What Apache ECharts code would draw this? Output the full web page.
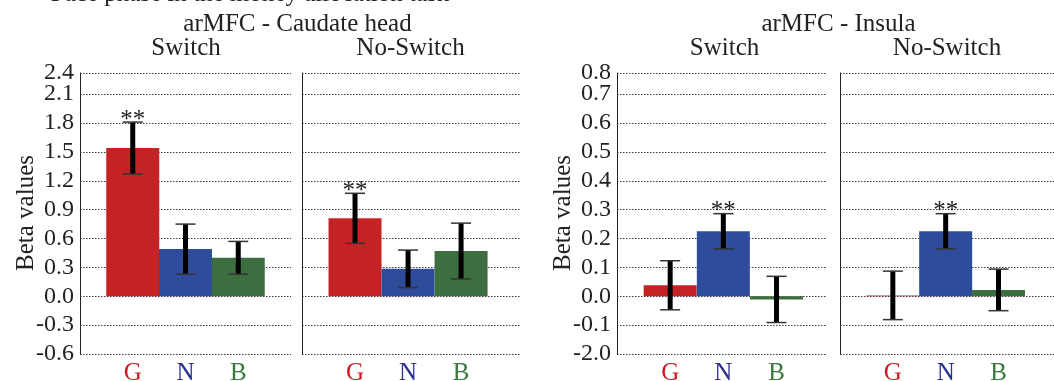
<!DOCTYPE html>
<html>
<head>
<meta charset="utf-8">
<script src="https://cdn.jsdelivr.net/npm/echarts@6/dist/echarts.min.js"></script>
<style>
  html, body { margin: 0; padding: 0; background: #fff; }
  #main { width: 1054px; height: 381px; }
</style>
</head>
<body>
<div id="main"></div>
<script>
// conditions on the x axis
var conditions = ['G', 'N', 'B'];
var condPos = [1, 2, 3];
var barColors = ['#c42224', '#2f4b9c', '#3c6e40'];
var labelColors = ['#cc1b22', '#2d2f8f', '#3b7a3d'];

// arMFC - Caudate head
var caudSwitch = [1.54, 0.49, 0.40];
var caudSwitchErr = [0.27, 0.26, 0.17];
var caudNoSwitch = [0.81, 0.285, 0.47];
var caudNoSwitchErr = [0.26, 0.195, 0.29];
var caudStars = [true, false, false];

// arMFC - Insula
var insSwitch = [0.038, 0.225, -0.011];
var insSwitchErr = [0.085, 0.061, 0.08];
var insNoSwitch = [0.003, 0.225, 0.022];
var insNoSwitchErr = [0.084, 0.061, 0.072];
var insStars = [false, true, false];

// tick labels as printed (the insula axis really says -2.0 at the bottom)
// top gridline in the figure sits less than a full step above the previous one
var caudTickLabels = ['-0.6', '-0.3', '0.0', '0.3', '0.6', '0.9', '1.2', '1.5', '1.8', '2.1', '2.4'];
var caudTickValues = [-0.6, -0.3, 0, 0.3, 0.6, 0.9, 1.2, 1.5, 1.8, 2.1, 2.32];
var insTickLabels = ['-2.0', '-0.1', '0.0', '0.1', '0.2', '0.3', '0.4', '0.5', '0.6', '0.7', '0.8'];
var insTickValues = [-0.2, -0.1, 0, 0.1, 0.2, 0.3, 0.4, 0.5, 0.6, 0.7, 0.773];

var FONT = 'Liberation Serif';
var chart = echarts.init(document.getElementById('main'));

function lblFmt(vals, labels) {
  return function (v) {
    var i = vals.indexOf(v);
    return i < 0 ? '' : labels[i];
  };
}

function yAx(gi, vals, labels, showLabel) {
  var top = vals[vals.length - 1];
  return {
    type: 'value', gridIndex: gi, position: 'left',
    min: vals[0], max: top + 0.0002,
    axisLine: { show: true, lineStyle: { color: '#222', width: 1 } },
    axisTick: { show: false, customValues: vals },
    axisLabel: {
      show: showLabel, customValues: vals.slice(0, -1), margin: 6,
      fontFamily: FONT, fontSize: 24, color: '#222',
      formatter: lblFmt(vals, labels)
    },
    splitLine: { show: true, lineStyle: { color: '#3a3a3a', width: 1.2, type: [1.5, 1.5] } }
  };
}

// separate axis just for the squeezed top label so it isn't dropped as overlapping
function yTopAx(gi, vals, labels) {
  var top = vals[vals.length - 1];
  return {
    type: 'value', gridIndex: gi, position: 'left', offset: 0,
    min: vals[0], max: top + 0.0002,
    axisLine: { show: false }, axisTick: { show: false }, splitLine: { show: false },
    axisLabel: {
      customValues: [top], margin: 6,
      fontFamily: FONT, fontSize: 24, color: '#222',
      formatter: lblFmt(vals, labels)
    }
  };
}

function xAx(gi, max) {
  return {
    type: 'value', gridIndex: gi, min: 0, max: max,
    axisLine: { show: false }, axisTick: { show: false }, splitLine: { show: false },
    axisLabel: {
      customValues: condPos, margin: 7,
      formatter: function (v) {
        var i = condPos.indexOf(v);
        return i < 0 ? '' : '{c' + i + '|' + conditions[i] + '}';
      },
      rich: {
        c0: { color: labelColors[0], fontFamily: FONT, fontSize: 25 },
        c1: { color: labelColors[1], fontFamily: FONT, fontSize: 25 },
        c2: { color: labelColors[2], fontFamily: FONT, fontSize: 25 }
      }
    }
  };
}

function barSeries(gi, vals) {
  return {
    type: 'bar', xAxisIndex: gi, yAxisIndex: gi, barWidth: 53, silent: true,
    data: vals.map(function (v, i) {
      return { value: [condPos[i], v], itemStyle: { color: barColors[i] } };
    })
  };
}

function renderErr(params, api) {
  var x = api.value(0), m = api.value(1), e = api.value(2);
  var hi = api.coord([x, m + e]);
  var lo = api.coord([x, m - e]);
  var kids = [
    { type: 'rect', shape: { x: hi[0] - 2.5, y: hi[1], width: 5, height: lo[1] - hi[1] }, style: { fill: '#000' } },
    { type: 'line', shape: { x1: hi[0] - 10, y1: hi[1], x2: hi[0] + 10, y2: hi[1] }, style: { stroke: '#333', lineWidth: 1.5 } },
    { type: 'line', shape: { x1: lo[0] - 10, y1: lo[1], x2: lo[0] + 10, y2: lo[1] }, style: { stroke: '#333', lineWidth: 1.5 } }
  ];
  if (api.value(3)) {
    kids.push({
      type: 'text', x: hi[0], y: hi[1] - 2,
      style: { text: '**', fontFamily: FONT, fontSize: 25, fill: '#222', align: 'center', verticalAlign: 'middle' }
    });
  }
  return { type: 'group', children: kids };
}

function errSeries(gi, vals, errs, stars) {
  return {
    type: 'custom', xAxisIndex: gi, yAxisIndex: gi, silent: true, z: 5,
    renderItem: renderErr,
    data: vals.map(function (v, i) { return [condPos[i], v, errs[i], stars[i] ? 1 : 0]; })
  };
}

function txt(s, x, y, size, rot) {
  return {
    type: 'text', x: x, y: y, rotation: rot || 0,
    style: { text: s, fontFamily: FONT, fontSize: size, fill: '#222', align: 'center', verticalAlign: 'middle' }
  };
}

var option = {
  animation: false,
  backgroundColor: '#fff',
  grid: [
    { left: 80, top: 73, width: 211, height: 281, outerBoundsMode: 'none' },
    { left: 302, top: 73, width: 219, height: 281, outerBoundsMode: 'none' },
    { left: 617, top: 73, width: 210, height: 281, outerBoundsMode: 'none' },
    { left: 840, top: 73, width: 214, height: 281, outerBoundsMode: 'none' }
  ],
  xAxis: [xAx(0, 4), xAx(1, 4.13), xAx(2, 3.95), xAx(3, 4.05)],
  yAxis: [
    yAx(0, caudTickValues, caudTickLabels, true),
    yAx(1, caudTickValues, caudTickLabels, false),
    yAx(2, insTickValues, insTickLabels, true),
    yAx(3, insTickValues, insTickLabels, false),
    yTopAx(0, caudTickValues, caudTickLabels),
    yTopAx(2, insTickValues, insTickLabels)
  ],
  series: [
    barSeries(0, caudSwitch), barSeries(1, caudNoSwitch),
    barSeries(2, insSwitch), barSeries(3, insNoSwitch),
    errSeries(0, caudSwitch, caudSwitchErr, caudStars),
    errSeries(1, caudNoSwitch, caudNoSwitchErr, caudStars),
    errSeries(2, insSwitch, insSwitchErr, insStars),
    errSeries(3, insNoSwitch, insNoSwitchErr, insStars)
  ],
  graphic: [
    txt('Face phase in the money allocation task', 250, -6, 25),
    txt('arMFC - Caudate head', 297.5, 24, 25),
    txt('Switch', 186, 48, 25),
    txt('No-Switch', 410.5, 48, 25),
    txt('arMFC - Insula', 838.5, 24, 25),
    txt('Switch', 724.5, 48, 25),
    txt('No-Switch', 947, 48, 25),
    txt('Beta values', 26, 213, 25, Math.PI / 2),
    txt('Beta values', 563, 213, 25, Math.PI / 2)
  ]
};
chart.setOption(option);
</script>
</body>
</html>
